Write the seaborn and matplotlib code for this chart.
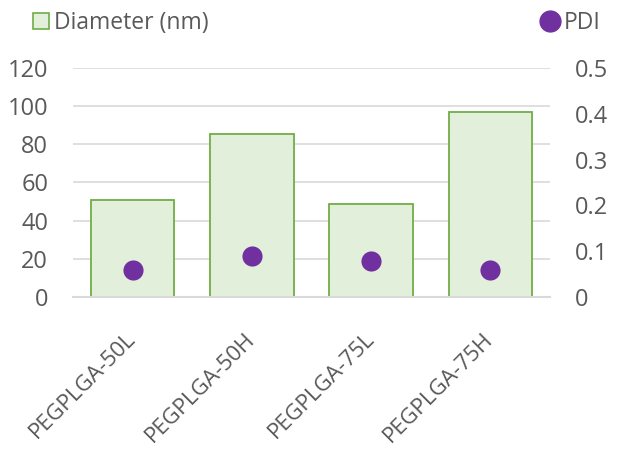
import matplotlib
matplotlib.use("Agg")
import matplotlib.pyplot as plt
import seaborn as sns
import numpy as np
from matplotlib.lines import Line2D

categories = ["PEGPLGA-50L", "PEGPLGA-50H", "PEGPLGA-75L", "PEGPLGA-75H"]
diameter = [51.0, 85.5, 48.5, 96.9]
pdi = [0.058, 0.089, 0.079, 0.058]
left_ticks = [0, 20, 40, 60, 80, 100, 120]
right_ticks = [0, 0.1, 0.2, 0.3, 0.4, 0.5]
right_labels = ["0", "0.1", "0.2", "0.3", "0.4", "0.5"]

sns.set_style("white")
plt.rcParams['font.family'] = ['Open Sans', 'DejaVu Sans']

text_color = "#595959"
bar_fill = "#E2EFDA"
bar_edge = "#70AD47"
dot_color = "#7030A0"
grid_color = "#D9D9D9"

fig = plt.figure(figsize=(6.2, 4.5), dpi=100)
ax = fig.add_axes([0.118, 0.34, 0.769, 0.509])

sns.barplot(x=categories, y=diameter, color=bar_fill, edgecolor=bar_edge,
            linewidth=1.3, width=0.7, saturation=1, ax=ax, zorder=2)
ax.set_ylim(0, 120)
ax.set_yticks(left_ticks)
ax.yaxis.grid(True, color=grid_color, linewidth=1.2, zorder=0)
ax.set_axisbelow(True)
for s in ["top", "right", "left"]:
    ax.spines[s].set_visible(False)
ax.spines["bottom"].set_color(grid_color)
ax.spines["bottom"].set_linewidth(1.5)
ax.tick_params(axis="y", length=0, pad=18, labelsize=17, labelcolor=text_color)
ax.tick_params(axis="x", length=0, pad=28, labelsize=16, labelcolor=text_color)
ax.set_xlabel("")
ax.set_ylabel("")

ax2 = ax.twinx()
sns.stripplot(x=categories, y=pdi, color=dot_color, size=14.5, jitter=False,
              ax=ax2, zorder=3, linewidth=0)
ax2.set_ylim(0, 0.5)
ax2.set_yticks(right_ticks)
ax2.set_yticklabels(right_labels)
for s in ["top", "right", "left", "bottom"]:
    ax2.spines[s].set_visible(False)
ax2.tick_params(axis="y", length=0, pad=18, labelsize=17, labelcolor=text_color)
ax2.set_xlabel("")
ax2.set_ylabel("")
ax2.set_xlim(-0.5, 3.5)
ax.set_xlim(-0.5, 3.5)

ax.set_xticks(range(len(categories)))
ax.set_xticklabels(categories, rotation=45, ha="right", va="center",
                   rotation_mode="anchor")
ax2.tick_params(axis="x", length=0, labelbottom=False)

h1 = Line2D([], [], marker="s", linestyle="none", markersize=12,
            markerfacecolor=bar_fill, markeredgecolor=bar_edge, markeredgewidth=1.2)
h2 = Line2D([], [], marker="o", linestyle="none", markersize=15,
            markerfacecolor=dot_color, markeredgecolor=dot_color)
leg1 = fig.legend([h1], ["Diameter (nm)"], loc="center left",
                  bbox_to_anchor=(0.052, 0.949), frameon=False, fontsize=16.5,
                  handletextpad=0.15, labelcolor=text_color, handlelength=0.8,
                  borderpad=0, borderaxespad=0)
leg2 = fig.legend([h2], ["PDI"], loc="center right",
                  bbox_to_anchor=(0.968, 0.949), frameon=False, fontsize=16.5,
                  handletextpad=0.15, labelcolor=text_color, handlelength=0.9,
                  borderpad=0, borderaxespad=0)

fig.savefig("out.png", dpi=100)
